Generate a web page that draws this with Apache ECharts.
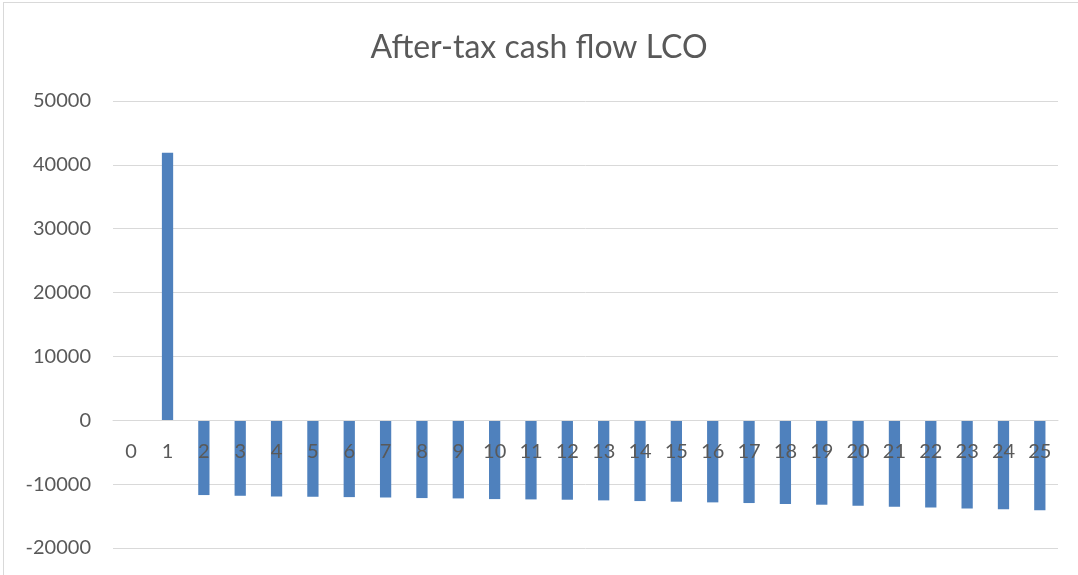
<!DOCTYPE html>
<html>
<head>
<meta charset="utf-8">
<script src="https://cdn.jsdelivr.net/npm/echarts@6/dist/echarts.min.js"></script>
<style>
    html, body { margin: 0; padding: 0; background: #fff; }
    #frame { position: absolute; left: 3px; top: 2px; width: 1090px; height: 590px; border: 1px solid #d9d9d9; }
    #chart { position: absolute; left: 0; top: 0; width: 1078px; height: 575px; }
</style>
</head>
<body>
<div id="frame"></div>
<div id="chart"></div>
<script>
    // years 0..25
    var years = ['0', '1', '2', '3', '4', '5', '6', '7', '8', '9', '10', '11', '12',
        '13', '14', '15', '16', '17', '18', '19', '20', '21', '22', '23', '24', '25'];
    var cashFlow = [0, 41900, -11710, -11820, -11920, -11975, -12030, -12080, -12180, -12235,
        -12340, -12390, -12440, -12545, -12650, -12750, -12855, -12960, -13115, -13220,
        -13375, -13530, -13640, -13795, -13950, -14105];
    var yTicks = { min: -20000, max: 50000, step: 10000 };

    var gridTop = 101, gridBottom = 27, chartH = 575;
    // move the category axis up onto the zero line (labels sit just under it, like excel)
    var plotH = chartH - gridTop - gridBottom;
    var zeroOffset = -plotH * (0 - yTicks.min) / (yTicks.max - yTicks.min);

    var chart = echarts.init(document.getElementById('chart'));
    chart.setOption({
        animation: false,
        textStyle: { fontFamily: 'Lato' },
        title: {
            text: 'After-tax cash flow LCO',
            left: 'center',
            top: 27,
            textStyle: { fontFamily: 'Lato', fontSize: 32, fontWeight: 'normal', color: '#595959' }
        },
        grid: { left: 113, right: 20, top: gridTop, bottom: gridBottom, outerBoundsMode: 'none', containLabel: false },
        xAxis: {
            type: 'category',
            data: years,
            position: 'bottom',
            offset: zeroOffset,
            z: 10,
            axisLine: { show: true, onZero: false, lineStyle: { color: '#d9d9d9' } },
            axisTick: { show: false },
            axisLabel: { margin: 21, fontSize: 20, color: '#595959', interval: 0 }
        },
        yAxis: {
            type: 'value',
            min: yTicks.min,
            max: yTicks.max,
            interval: yTicks.step,
            axisLine: { show: false },
            axisTick: { show: false },
            axisLabel: {
                margin: 22, fontSize: 20, color: '#595959',
                formatter: function (v) { return String(v); }
            },
            splitLine: { lineStyle: { color: '#d9d9d9', width: 1 } }
        },
        series: [{
            type: 'bar',
            data: cashFlow,
            barWidth: '31%',
            itemStyle: { color: '#4f81bd' },
            z: 1
        }]
    });
</script>
</body>
</html>
